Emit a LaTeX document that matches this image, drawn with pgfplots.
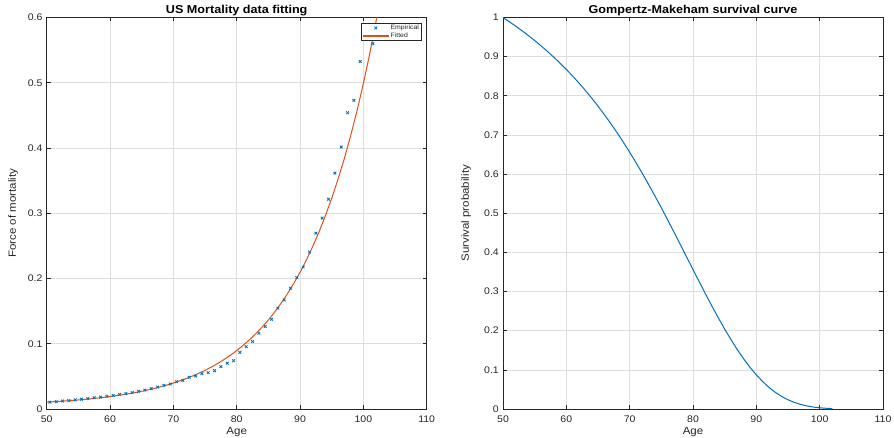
\documentclass[border=0pt]{standalone}
\usepackage{fontspec}
\setmainfont{Liberation Sans}[FakeStretch=1.1]
\usepackage{pgfplots}
\pgfplotsset{compat=1.18}
\definecolor{mblue}{rgb}{0,0.447,0.741}
\definecolor{morange}{rgb}{0.85,0.325,0.098}
\definecolor{maxis}{rgb}{0.15,0.15,0.15}
\pgfplotsset{
  markleg/.style={legend image code/.code={\draw[##1] plot coordinates {(12.3bp,0bp)};}},
  lineleg/.style={legend image code/.code={\fill[morange] (0bp,-0.5bp) rectangle (24.6bp,0.5bp);}},
  every axis title shift=0pt,
  mstyle/.style={
  scale only axis, width=380bp, height=391.5bp, anchor=south west,
  axis line style={maxis, line width=0.8bp},
  tick style={maxis, line width=0.6bp}, major tick length=3.8bp, tick align=inside,
  xtick pos=both, ytick pos=both, xticklabel pos=bottom, yticklabel pos=left,
  grid=major, major grid style={black!13, line width=0.6bp},
  xmin=50, xmax=110, xtick={50,60,70,80,90,100,110}, ymin=0,
  /pgf/number format/assume math mode=true, /pgf/number format/fixed,
  tick label style={font=\fontsize{9.6}{10}\selectfont, text=maxis},
  xticklabel style={anchor=base, inner sep=0pt, yshift=-13.7bp},
  yticklabel style={anchor=east, inner sep=0pt, xshift=-4bp},
  label style={font=\fontsize{10.5}{11}\selectfont, text=maxis},
  xlabel={Age},
  xlabel style={at={(axis description cs:0.5,0)}, anchor=base, yshift=-25bp},
  ylabel style={at={(axis description cs:-0.0808,0.5)}, anchor=base, rotate=0},
  title style={at={(axis description cs:0.5,1)}, anchor=base, yshift=3.6bp, font=\bfseries\fontsize{11.5}{12}\selectfont},
}}
\begin{document}
\begin{tikzpicture}
\useasboundingbox (0,0) rectangle (894bp,438bp);
\begin{axis}[mstyle, at={(46.7bp,29bp)}, ymax=0.6, ytick={0,0.1,0.2,0.3,0.4,0.5,0.6},
  title={US Mortality data fitting}, ylabel={Force of mortality},
  legend cell align=left,
  legend style={at={(axis description cs:0.9868,0.9867)}, anchor=north east, draw=maxis, line width=0.5bp, fill=white,
    inner xsep=2bp, inner ysep=1.2bp, row sep=0pt, font=\fontsize{6.3}{7}\selectfont,
    nodes={inner sep=0.4bp, text height=5.0bp, text depth=1.8bp, text=maxis},
    /tikz/every odd column/.append style={column sep=1.6bp}}]
\addplot[only marks, mark=x, color=mblue, mark size=1.9bp, line width=0.85bp, markleg] coordinates {
(50.5,0.0105) (51.5,0.0112) (52.5,0.0122) (53.5,0.0130) (54.5,0.0140)
(55.5,0.0150) (56.5,0.0160) (57.5,0.0172) (58.5,0.0182) (59.5,0.0195)
(60.5,0.0208) (61.5,0.0222) (62.5,0.0236) (63.5,0.0252) (64.5,0.0270)
(65.5,0.0290) (66.5,0.0312) (67.5,0.0336) (68.5,0.0362) (69.5,0.0383)
(70.5,0.0419) (71.5,0.0440) (72.5,0.0486) (73.5,0.0506) (74.5,0.0542)
(75.5,0.0557) (76.5,0.0588) (77.5,0.0649) (78.5,0.0701) (79.5,0.0741)
(80.5,0.0869) (81.5,0.0955) (82.5,0.1033) (83.5,0.1161) (84.5,0.1265)
(85.5,0.1375) (86.5,0.1545) (87.5,0.1672) (88.5,0.1851) (89.5,0.2015)
(90.5,0.2175) (91.5,0.2405) (92.5,0.2695) (93.5,0.2925) (94.5,0.3215)
(95.5,0.3615) (96.5,0.4015) (97.5,0.4542) (98.5,0.4731) (99.5,0.5325)
(101.5,0.5600)
};
\addlegendentry{Empirical}
\addplot[color=morange, line width=1bp, lineleg] coordinates {
(50,0.01057) (51,0.01113) (52,0.01174) (53,0.01240) (54,0.01313)
(55,0.01392) (56,0.01479) (57,0.01574) (58,0.01677) (59,0.01790)
(60,0.01913) (61,0.02048) (62,0.02195) (63,0.02355) (64,0.02530)
(65,0.02721) (66,0.02931) (67,0.03158) (68,0.03408) (69,0.03680)
(70,0.03977) (71,0.04301) (72,0.04656) (73,0.05042) (74,0.05465)
(75,0.05926) (76,0.06430) (77,0.06980) (78,0.07581) (79,0.08237)
(80,0.08953) (81,0.09735) (82,0.10590) (83,0.11522) (84,0.12541)
(85,0.13653) (86,0.14867) (87,0.16193) (88,0.17642) (89,0.19223)
(90,0.20950) (91,0.22836) (92,0.24895) (93,0.27144) (94,0.29600)
(95,0.32281) (96,0.35209) (97,0.38406) (98,0.41898) (99,0.45711)
(100,0.49873) (101,0.54421) (102,0.59385) (103,0.64809)
};
\addlegendentry{Fitted}
\end{axis}
\begin{axis}[mstyle, at={(503bp,29bp)}, ymax=1, ytick={0,0.1,0.2,0.3,0.4,0.5,0.6,0.7,0.8,0.9,1},
  title={Gompertz-Makeham survival curve}, ylabel={Survival probability},
  ylabel style={at={(axis description cs:-0.0895,0.5)}}]
\addplot[color=mblue, line width=1bp] coordinates {
(50,1) (51,0.98920) (52,0.97795) (53,0.96623) (54,0.95397)
(55,0.94117) (56,0.92775) (57,0.91370) (58,0.89898) (59,0.88353)
(60,0.86738) (61,0.85035) (62,0.83253) (63,0.81383) (64,0.79420)
(65,0.77363) (66,0.75207) (67,0.72955) (68,0.70599) (69,0.68143)
(70,0.65586) (71,0.62927) (72,0.60173) (73,0.57327) (74,0.54394)
(75,0.51384) (76,0.48307) (77,0.45176) (78,0.42005) (79,0.38812)
(80,0.35620) (81,0.32444) (82,0.29311) (83,0.26245) (84,0.23271)
(85,0.20417) (86,0.17706) (87,0.15160) (88,0.12800) (89,0.10646)
(90,0.08710) (91,0.07000) (92,0.05514) (93,0.04252) (94,0.03203)
(95,0.02351) (96,0.01677) (97,0.01161) (98,0.00777) (99,0.00502)
(100,0.00311) (101,0.00185) (102,0.00105)
};
\end{axis}
\end{tikzpicture}
\end{document}
